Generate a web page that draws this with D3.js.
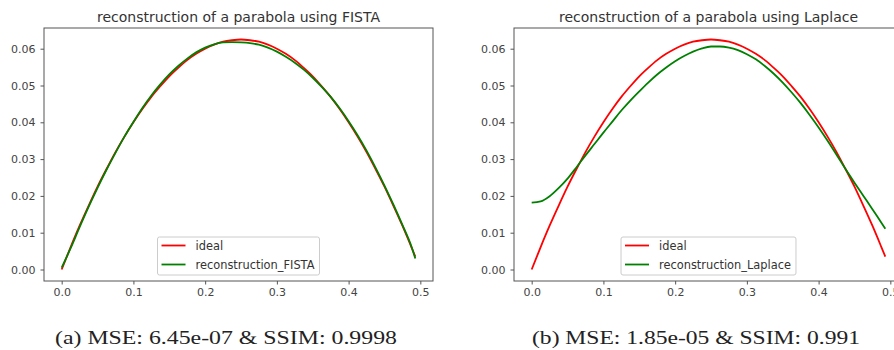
<!DOCTYPE html>
<html>
  <head>
    <meta charset="utf-8" />
    <title>parabola reconstruction</title>
    <script src="https://cdn.jsdelivr.net/npm/d3@7"></script>
    <style type="text/css">
      body { margin: 0; background: #fff; }
      svg text { font-family: "DejaVu Sans", sans-serif; }
      .tick text { fill: #444; font-size: 11px; }
      .tick line, .domain { stroke: #555; }
      svg text.caption { font-family: "Liberation Serif", "DejaVu Serif", serif; fill: #222; }
    </style>
  </head>

  <body onload="drawFig()">
    <svg id="fig" width="894" height="350"></svg>
    <script type="text/javascript">
      // sample positions (shared by every curve)
      var xs = [0, 0.0125, 0.025, 0.0375, 0.05, 0.0625, 0.075, 0.0875, 0.1, 0.1125,
        0.125, 0.1375, 0.15, 0.1625, 0.175, 0.1875, 0.2, 0.2125, 0.225, 0.2375,
        0.25, 0.2625, 0.275, 0.2875, 0.3, 0.3125, 0.325, 0.3375, 0.35, 0.3625,
        0.375, 0.3875, 0.4, 0.4125, 0.425, 0.4375, 0.45, 0.4625, 0.475, 0.4875, 0.493];

      var idealY = [0.0000, 0.0061, 0.0119, 0.0173, 0.0225, 0.0273, 0.0319, 0.0361, 0.0400, 0.0436,
        0.0469, 0.0498, 0.0525, 0.0548, 0.0569, 0.0586, 0.0600, 0.0611, 0.0619, 0.0623,
        0.0625, 0.0623, 0.0619, 0.0611, 0.0600, 0.0586, 0.0569, 0.0548, 0.0525, 0.0498,
        0.0469, 0.0436, 0.0400, 0.0361, 0.0319, 0.0273, 0.0225, 0.0173, 0.0119, 0.0061, 0.0035];

      var fistaY = [0.0005, 0.0058, 0.0115, 0.0170, 0.0222, 0.0271, 0.0317, 0.0361, 0.0401, 0.0439,
        0.0473, 0.0503, 0.0530, 0.0553, 0.0573, 0.0590, 0.0603, 0.0612, 0.0617, 0.0618,
        0.0617, 0.0615, 0.0611, 0.0603, 0.0592, 0.0578, 0.0562, 0.0543, 0.0521, 0.0496,
        0.0469, 0.0438, 0.0403, 0.0365, 0.0323, 0.0277, 0.0228, 0.0176, 0.0121, 0.0063, 0.0030];

      var laplaceY = [0.0182, 0.0185, 0.0199, 0.0221, 0.0247, 0.0278, 0.0310, 0.0341, 0.0372, 0.0402,
        0.0432, 0.0459, 0.0484, 0.0508, 0.0530, 0.0549, 0.0566, 0.0580, 0.0592, 0.0601,
        0.0606, 0.0606, 0.0603, 0.0596, 0.0585, 0.0571, 0.0553, 0.0532, 0.0508, 0.0481,
        0.0452, 0.0420, 0.0386, 0.0350, 0.0312, 0.0273, 0.0236, 0.0200, 0.0164, 0.0127, 0.0111];

      var xTicks = [0, 0.1, 0.2, 0.3, 0.4, 0.5];
      var yTicks = [0, 0.01, 0.02, 0.03, 0.04, 0.05, 0.06];

      var panels = [
        { title: 'reconstruction of a parabola using FISTA', name: 'reconstruction_FISTA',
          recon: fistaY, caption: '(a) MSE: 6.45e-07 & SSIM: 0.9998', left: 44, capX: 226, capW: 342 },
        { title: 'reconstruction of a parabola using Laplace', name: 'reconstruction_Laplace',
          recon: laplaceY, caption: '(b) MSE: 1.85e-05 & SSIM: 0.991', left: 514, capX: 696, capW: 328 },
      ];

      function drawFig() {
        var svg = d3.select('#fig');
        var W = 389, plotTop = 28, plotBot = 281;

        panels.forEach(function (p) {
          var x = d3.scaleLinear().domain([-0.02465, 0.51765]).range([p.left, p.left + W]);
          var y = d3.scaleLinear().domain([-0.003125, 0.065625]).range([plotBot, plotTop]);
          var g = svg.append('g');

          g.append('g')
            .attr('transform', 'translate(0,' + plotBot + ')')
            .call(d3.axisBottom(x).tickValues(xTicks).tickFormat(d3.format('.1f')).tickSize(3.5).tickPadding(4))
            .call((a) => a.select('.domain').remove());
          g.append('g')
            .attr('transform', 'translate(' + p.left + ',0)')
            .call(d3.axisLeft(y).tickValues(yTicks).tickFormat(d3.format('.2f')).tickSize(3.5).tickPadding(5))
            .call((a) => a.select('.domain').remove());

          g.append('rect')
            .attr('x', p.left).attr('y', plotTop)
            .attr('width', W).attr('height', plotBot - plotTop)
            .attr('fill', 'none').attr('stroke', '#555').attr('stroke-width', 1);

          var line = (ys) => d3.line()
            .x((d, i) => x(xs[i]))
            .y((d) => y(d))
            .curve(d3.curveMonotoneX)(ys);

          g.append('path').attr('d', line(idealY))
            .attr('fill', 'none').attr('stroke', '#ff0000').attr('stroke-width', 1.8);
          g.append('path').attr('d', line(p.recon))
            .attr('fill', 'none').attr('stroke', '#008000').attr('stroke-width', 1.8);

          var cx = p.left + W / 2;
          g.append('text')
            .attr('x', cx).attr('y', 22)
            .attr('text-anchor', 'middle')
            .attr('font-size', 14).attr('fill', '#333')
            .text(p.title);

          // legend, lower center
          var leg = g.append('g');
          var items = [['ideal', '#ff0000'], [p.name, '#008000']];
          var texts = items.map(function (it, i) {
            return leg.append('text')
              .attr('y', 250 + i * 19)
              .attr('font-size', 11.4).attr('fill', '#333')
              .text(it[0]);
          });
          var tw = d3.max(texts, (t) => t.node().getComputedTextLength());
          var bw = 38 + tw + 5;
          var bx = cx - bw / 2;
          leg.insert('rect', ':first-child')
            .attr('x', bx).attr('y', 237)
            .attr('width', bw).attr('height', 38)
            .attr('rx', 2)
            .attr('fill', '#fff').attr('stroke', '#ccc');
          texts.forEach(function (t, i) {
            t.attr('x', bx + 38);
            leg.append('line')
              .attr('x1', bx + 4).attr('x2', bx + 28)
              .attr('y1', 245.5 + i * 19).attr('y2', 245.5 + i * 19)
              .attr('stroke', items[i][1]).attr('stroke-width', 1.8);
          });

          svg.append('text')
            .attr('class', 'caption')
            .attr('x', p.capX).attr('y', 344)
            .attr('text-anchor', 'middle')
            .attr('font-size', 19)
            .attr('textLength', p.capW)
            .attr('lengthAdjust', 'spacingAndGlyphs')
            .text(p.caption);
        });
      }
    </script>
  </body>
</html>
